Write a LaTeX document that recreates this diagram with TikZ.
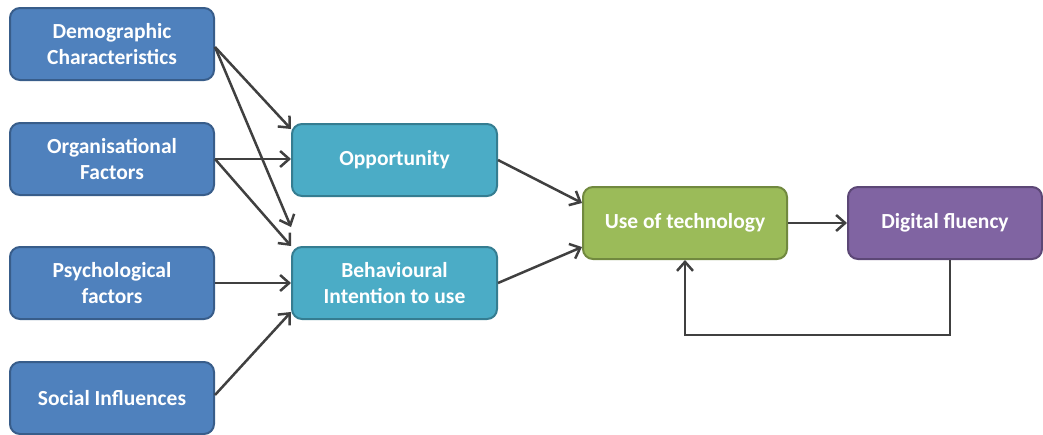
\documentclass[tikz,border=0pt]{standalone}
\usepackage{fontspec}
\setmainfont{Carlito}
\usetikzlibrary{arrows.meta,calc}
\definecolor{bluef}{HTML}{4F81BD}
\definecolor{blued}{HTML}{385D8A}
\definecolor{tealf}{HTML}{4BACC6}
\definecolor{teald}{HTML}{357D91}
\definecolor{greenf}{HTML}{9BBB59}
\definecolor{greend}{HTML}{71893F}
\definecolor{purplef}{HTML}{8064A2}
\definecolor{purpled}{HTML}{5C4776}
\definecolor{arr}{HTML}{404040}
\tikzset{
  box/.style={rectangle, rounded corners=10pt, line width=2pt, minimum height=72pt,
    text=white, font=\fontsize{21.5}{26}\selectfont\bfseries, align=center, inner sep=0pt},
  bluebox/.style={box, fill=bluef, draw=blued, minimum width=204pt},
  tealbox/.style={box, fill=tealf, draw=teald, minimum width=205pt},
  greenbox/.style={box, fill=greenf, draw=greend, minimum width=204pt},
  purplebox/.style={box, fill=purplef, draw=purpled, minimum width=194pt},
  conn/.style={draw=arr, line width=2.5pt, -{Straight Barb[length=9pt,width=16pt,line width=2.5pt]}},
}
\begin{document}
\begin{tikzpicture}[x=1pt,y=-1pt]
\useasboundingbox (0,0) rectangle (1043,434);
\node[bluebox] (dem) at (112,44) {Demographic\\Characteristics};
\node[bluebox] (org) at (112,159) {Organisational\\Factors};
\node[bluebox] (psy) at (112,283) {Psychological\\factors};
\node[bluebox] (soc) at (112,398) {Social Influences};
\node[tealbox] (opp) at (394.5,160) {Opportunity};
\node[tealbox] (beh) at (394.5,283) {Behavioural\\Intention to use};
\node[greenbox] (use) at (685,223) {Use of technology};
\node[purplebox] (dig) at (945,223) {Digital fluency};

\draw[conn] ($(dem.east)+(0,3)$) -- ($(opp.north west)+(0,6)$);
\draw[conn] ($(dem.east)+(0,3)$) -- ($(beh.north west)+(0,-19)$);
\draw[conn] (org.east) -- (opp.west |- org.east);
\draw[conn] (org.east) -- (beh.north west);
\draw[conn] (psy.east) -- (beh.west);
\draw[conn] ($(soc.east)+(0,-3)$) -- ($(beh.south west)+(0,-8)$);
\draw[conn] (opp.east) -- ($(use.west)+(0,-20)$);
\draw[conn] (beh.east) -- ($(use.west)+(0,24)$);
\draw[conn] (use.east) -- (dig.west);
\coordinate (c1) at ($(dig.south)+(5,75)$);
\draw[conn] (dig.south -| c1) -- (c1) -- (c1 -| use.south) -- (use.south);
\end{tikzpicture}
\end{document}
